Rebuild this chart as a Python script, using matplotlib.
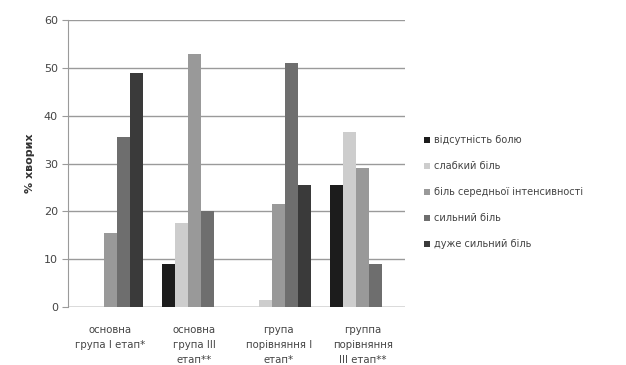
import numpy as np
import matplotlib.pyplot as plt

# groups and pain levels (% of patients)
groups = ['основна\nгрупа І етап*', 'основна\nгрупа ІІІ\nетап**',
          'група\nпорівняння І\nетап*', 'группа\nпорівняння\nІІІ етап**']
pain_levels = ['відсутність болю', 'слабкий біль', 'біль середньої інтенсивності',
               'сильний біль', 'дуже сильний біль']
no_pain = [0, 9, 0, 25.5]
weak = [0, 17.5, 1.5, 36.5]
moderate = [15.5, 53, 21.5, 29]
strong = [35.5, 20, 51, 9]
very_strong = [49, 0, 25.5, 0]
colours = ['#1c1c1c', '#cdcdcd', '#999999', '#6e6e6e', '#3a3a3a']

series = [no_pain, weak, moderate, strong, very_strong]

fig = plt.figure(figsize=(6.26, 3.65), dpi=100)
ax = fig.add_axes([0.109, 0.159, 0.538, 0.786])

x = np.arange(len(groups))
w = 0.155
for i, (vals, lab, c) in enumerate(zip(series, pain_levels, colours)):
    ax.bar(x + (i - 2) * w, vals, width=w, color=c, label=lab, zorder=3)

ax.set_xlim(-0.5, 3.5)
ax.set_ylim(0, 60)
ax.set_yticks(range(0, 61, 10))
ax.yaxis.grid(True, color='#9a9a9a', lw=1.0, zorder=0)
ax.set_axisbelow(True)
for s in ['top', 'right', 'bottom']:
    ax.spines[s].set_visible(False)
ax.spines['left'].set_color('#9a9a9a')
ax.axhline(0, color='#9a9a9a', lw=1.0, zorder=2)
ax.tick_params(axis='y', length=4, color='#9a9a9a', labelsize=8, labelcolor='#444444')
ax.tick_params(axis='x', length=0, labelsize=7.3, labelcolor='#444444', pad=13)
ax.set_xticks(x)
ax.set_xticklabels(groups, linespacing=1.6)
ax.set_ylabel('% хворих', fontsize=8, fontweight='bold', color='#333333', labelpad=6)

leg = ax.legend(loc='center left', bbox_to_anchor=(1.03, 0.40), frameon=False,
                fontsize=7, handlelength=0.6, handleheight=0.6, handletextpad=0.4,
                labelspacing=1.65, labelcolor='#444444')

fig.savefig('out.png', dpi=100)
